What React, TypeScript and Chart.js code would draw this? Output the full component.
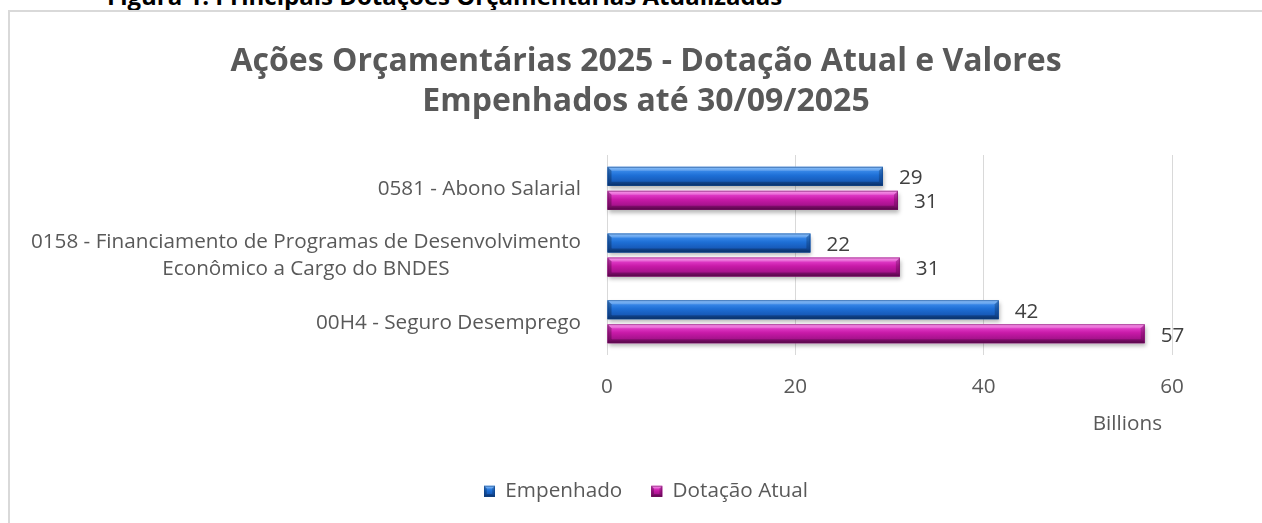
import React, { useEffect, useRef } from "react";
import { Chart, registerables } from "chart.js";

Chart.register(...registerables);

// ---------- data ----------
const CATEGORIES: string[][] = [
  ["0581 - Abono Salarial"],
  ["0158 - Financiamento de Programas de Desenvolvimento", "Econômico a Cargo do BNDES"],
  ["00H4 - Seguro Desemprego"],
];
const SERIES_NAMES = ["Empenhado", "Dotação Atual"];
const EMPENHADO = [29.3, 21.6, 41.6];
const DOTACAO_ATUAL = [30.9, 31.1, 57.1];
const X_TICKS = [0, 20, 40, 60];
const TITLE_LINES = ["Ações Orçamentárias 2025 - Dotação Atual e Valores", "Empenhados até 30/09/2025"];
const AXIS_UNIT = "Billions";
const FIGURE_CAPTION = "Figura 1: Principais Dotações Orçamentárias Atualizadas";

// ---------- styles ----------
const FONT = "'Open Sans', 'Noto Sans', sans-serif";
const FS = 20.7;
const TEXT_COLOR = "#595959";
const LABEL_COLOR = "#404040";
const GRID_COLOR = "#D9D9D9";
const SERIES_COLORS = ["#1E6FD6", "#C81AA8"];
const PALETTES = [
  { light: "#6CB0F7", top: "#3A8AEA", base: "#1E6FD6", low: "#1658B6", dark: "#0B3D82" },
  { light: "#F87FE8", top: "#E23ECA", base: "#C81AA8", low: "#A3118A", dark: "#6A0959" },
];

type Pal = (typeof PALETTES)[number];

function poly(ctx: CanvasRenderingContext2D, pts: number[][], fill: string) {
  ctx.beginPath();
  ctx.moveTo(pts[0][0], pts[0][1]);
  for (let i = 1; i < pts.length; i++) ctx.lineTo(pts[i][0], pts[i][1]);
  ctx.closePath();
  ctx.fillStyle = fill;
  ctx.fill();
}

function paintBevel(ctx: CanvasRenderingContext2D, left: number, top: number, right: number, bottom: number, p: Pal) {
  const w = right - left;
  const h = bottom - top;
  if (w <= 0 || h <= 0) return;
  const g = ctx.createLinearGradient(0, top, 0, bottom);
  g.addColorStop(0, p.light);
  g.addColorStop(0.18, p.top);
  g.addColorStop(0.45, p.base);
  g.addColorStop(0.8, p.low);
  g.addColorStop(1, p.dark);
  ctx.fillStyle = g;
  ctx.fillRect(left, top, w, h);
  const b = Math.min(4, h / 4, w / 2);
  poly(ctx, [[left, top], [right, top], [right - b, top + b], [left + b, top + b]], "rgba(255,255,255,0.22)");
  poly(ctx, [[left + b, bottom - b], [right - b, bottom - b], [right, bottom], [left, bottom]], "rgba(0,0,0,0.22)");
  poly(ctx, [[right - b, top + b], [right, top], [right, bottom], [right - b, bottom - b]], "rgba(0,0,0,0.2)");
  poly(ctx, [[left, top], [left + b, top + b], [left + b, bottom - b], [left, bottom]], "rgba(0,0,0,0.25)");
  ctx.strokeStyle = p.dark;
  ctx.globalAlpha = 0.5;
  ctx.lineWidth = 1;
  ctx.strokeRect(left + 0.5, top + 0.5, w - 1, h - 1);
  ctx.globalAlpha = 1;
}

function barRect(el: any) {
  const { x, y, base, height } = el.getProps(["x", "y", "base", "height"], true);
  return { left: Math.min(base, x), right: Math.max(base, x), top: y - height / 2, bottom: y + height / 2, y, x };
}

const bevelBarsPlugin = {
  id: "bevelBars",
  beforeDatasetsDraw(chart: any) {
    const ctx: CanvasRenderingContext2D = chart.ctx;
    chart.data.datasets.forEach((_: any, d: number) => {
      chart.getDatasetMeta(d).data.forEach((el: any) => {
        const r = barRect(el);
        ctx.save();
        ctx.shadowColor = "rgba(0,0,0,0.28)";
        ctx.shadowBlur = 4;
        ctx.shadowOffsetX = 1;
        ctx.shadowOffsetY = 3;
        ctx.fillStyle = "#ffffff";
        ctx.fillRect(r.left, r.top, r.right - r.left, r.bottom - r.top);
        ctx.restore();
      });
    });
  },
  afterDatasetsDraw(chart: any) {
    const ctx: CanvasRenderingContext2D = chart.ctx;
    ctx.save();
    chart.data.datasets.forEach((ds: any, d: number) => {
      chart.getDatasetMeta(d).data.forEach((el: any, i: number) => {
        const r = barRect(el);
        paintBevel(ctx, r.left, r.top, r.right, r.bottom, PALETTES[d]);
        // value label
        ctx.font = `${FS}px ${FONT}`;
        ctx.fillStyle = LABEL_COLOR;
        ctx.textAlign = "left";
        ctx.textBaseline = "middle";
        ctx.fillText(String(Math.round(ds.data[i])), r.right + 16, r.y + 2);
      });
    });
    ctx.restore();
  },
  afterDraw(chart: any) {
    const ctx: CanvasRenderingContext2D = chart.ctx;
    const yScale = chart.scales.y;
    const xScale = chart.scales.x;
    const area = chart.chartArea;
    ctx.save();
    // category labels: block right-aligned, lines centred inside the block
    ctx.font = `${FS}px ${FONT}`;
    ctx.fillStyle = TEXT_COLOR;
    ctx.textAlign = "center";
    ctx.textBaseline = "middle";
    const lineH = 27;
    (chart.data.labels as string[][]).forEach((lines, i) => {
      const cy = yScale.getPixelForValue(i) + 1;
      const wMax = Math.max(...lines.map((l) => ctx.measureText(l).width));
      const right = area.left - 26;
      const cx = right - wMax / 2;
      lines.forEach((l, k) => {
        ctx.fillText(l, cx, cy + (k - (lines.length - 1) / 2) * lineH);
      });
    });
    // axis unit label
    ctx.textAlign = "right";
    ctx.fillText(AXIS_UNIT, area.right - 10, xScale.bottom - 28);
    // 3D legend boxes
    const legend = chart.legend;
    if (legend && legend.legendHitBoxes) {
      legend.legendHitBoxes.forEach((hb: any, i: number) => {
        const top = hb.top + (hb.height - 11) / 2;
        paintBevel(ctx, hb.left, top, hb.left + 11, top + 11, PALETTES[i]);
      });
    }
    ctx.restore();
  },
};

export default function App() {
  const ref = useRef<HTMLCanvasElement>(null);

  useEffect(() => {
    if (!ref.current) return;
    const chart = new Chart(ref.current, {
      type: "bar",
      data: {
        labels: CATEGORIES as any,
        datasets: [
          {
            label: SERIES_NAMES[0],
            data: EMPENHADO,
            backgroundColor: SERIES_COLORS[0],
            borderWidth: 0,
            categoryPercentage: 0.72,
            barPercentage: 0.79,
          },
          {
            label: SERIES_NAMES[1],
            data: DOTACAO_ATUAL,
            backgroundColor: SERIES_COLORS[1],
            borderWidth: 0,
            categoryPercentage: 0.72,
            barPercentage: 0.79,
          },
        ],
      },
      options: {
        indexAxis: "y",
        responsive: false,
        animation: false,
        events: [],
        layout: { padding: { left: 0, right: 0, top: 0, bottom: 11.3 } },
        font: { family: FONT },
        scales: {
          x: {
            type: "linear",
            position: "bottom",
            min: 0,
            max: 60,
            afterBuildTicks: (s: any) => {
              s.ticks = X_TICKS.map((v) => ({ value: v }));
            },
            afterFit: (s: any) => {
              s.height = 97;
            },
            ticks: { padding: 19.6, color: TEXT_COLOR, font: { family: FONT, size: FS } },
            grid: { color: GRID_COLOR, lineWidth: 1, drawTicks: false },
            border: { display: false },
          },
          y: {
            type: "category",
            position: "left",
            grid: { display: false },
            border: { display: false },
            ticks: { display: false },
            afterFit: (s: any) => {
              s.width = 599;
            },
          },
          y2: {
            type: "linear",
            position: "right",
            grid: { display: false },
            border: { display: false },
            ticks: { display: false },
            afterFit: (s: any) => {
              s.width = 112;
            },
          },
        } as any,
        plugins: {
          title: {
            display: true,
            text: TITLE_LINES,
            color: TEXT_COLOR,
            font: { family: FONT, size: 32, weight: "bold", lineHeight: 1.25 },
            padding: { top: 41.5, bottom: 33.5 },
          },
          legend: {
            display: true,
            position: "bottom",
            labels: {
              boxWidth: 11,
              boxHeight: 11,
              padding: 29,
              color: TEXT_COLOR,
              font: { family: FONT, size: FS },
            },
          },
          tooltip: { enabled: false },
        },
      } as any,
      plugins: [bevelBarsPlugin],
    });
    return () => chart.destroy();
  }, []);

  return (
    <div
      style={{
        position: "fixed",
        left: 0,
        top: 0,
        width: 1262,
        height: 523,
        overflow: "hidden",
        background: "#ffffff",
      }}
    >
      <div
        style={{
          position: "absolute",
          left: 107,
          top: -16,
          font: `bold 24px ${FONT}`,
          lineHeight: "24px",
          color: "#000000",
          whiteSpace: "nowrap",
        }}
      >
        {FIGURE_CAPTION}
      </div>
      <div
        style={{
          position: "absolute",
          left: 8,
          top: 10,
          width: 1320,
          height: 600,
          border: `2px solid ${GRID_COLOR}`,
          boxSizing: "border-box",
        }}
      />
      <canvas
        ref={ref}
        width={1276}
        height={523}
        style={{ position: "absolute", left: 8, top: 0, width: 1276, height: 523 }}
      />
    </div>
  );
}
